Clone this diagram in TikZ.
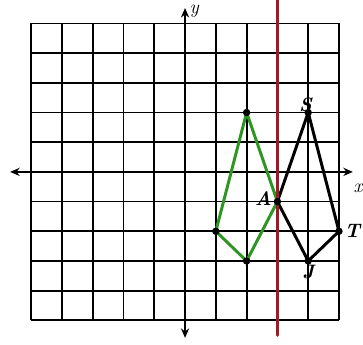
\documentclass[tikz,border=0pt]{standalone}
\usetikzlibrary{arrows.meta}
\definecolor{kitegreen}{RGB}{45,150,35}
\definecolor{mirrorred}{RGB}{160,25,40}
\tikzset{
  gridline/.style={line width=1.3pt, black},
  axisline/.style={line width=1.4pt, {Stealth[length=7pt,width=6pt]}-{Stealth[length=7pt,width=6pt]}},
  greenkite/.style={line width=2.2pt, kitegreen, line join=round},
  blackkite/.style={line width=2.2pt, black, line join=round},
  mirror/.style={line width=2.6pt, mirrorred, line cap=round},
  vdot/.style={circle, fill=black, inner sep=0pt, minimum size=5.5pt},
  lbl/.style={font=\Large\itshape\bfseries, inner sep=1pt},
}
\begin{document}
\begin{tikzpicture}[x=0.8cm, y=0.7714cm]
\useasboundingbox (-6.01,-5.82) rectangle (5.78,5.79);
% grid
\foreach \i in {-5,...,5} {
  \draw[gridline] (\i,-5) -- (\i,5);
  \draw[gridline] (-5,\i) -- (5,\i);
}
% axes
\coordinate (xl) at (-5.68,0);
\coordinate (xr) at (5.45,0);
\coordinate (yt) at (0,5.52);
\coordinate (yb) at (0,-5.59);
\draw[axisline] (xl) -- (xr);
\draw[axisline] (yt) -- (yb);
\node[lbl, font=\Large\itshape] (xlab) at (5.62,-0.55) {x};
\node[lbl, font=\Large\itshape] (ylab) at (0.3,5.4) {y};
% mirror line
\coordinate (mt) at (3,5.82);
\coordinate (mb) at (3,-5.5);
% vertices
\coordinate (g1) at (2,2);
\coordinate (A) at (3,-1);
\coordinate (g3) at (2,-3);
\coordinate (g4) at (1,-2);
\coordinate (S) at (4,2);
\coordinate (J) at (4,-3);
\coordinate (T) at (5,-2);
% kites
\draw[greenkite] (g1) -- (A) -- (g3) -- (g4) -- cycle;
\draw[blackkite] (S) -- (A) -- (J) -- (T) -- cycle;
\draw[mirror] (mt) -- (mb);
\foreach \p in {g1,A,g3,g4,S,J,T} \node[vdot] (d\p) at (\p) {};
% labels
\node[lbl, anchor=east] (Alab) at ([yshift=2pt]dA.west) {A};
\node[lbl, anchor=south] (Slab) at ([xshift=-2pt,yshift=-4pt]dS.north) {S};
\node[lbl, anchor=west] (Tlab) at (dT.east) {T};
\node[lbl, anchor=north] (Jlab) at ([yshift=1pt]dJ.south) {J};
\end{tikzpicture}
\end{document}
